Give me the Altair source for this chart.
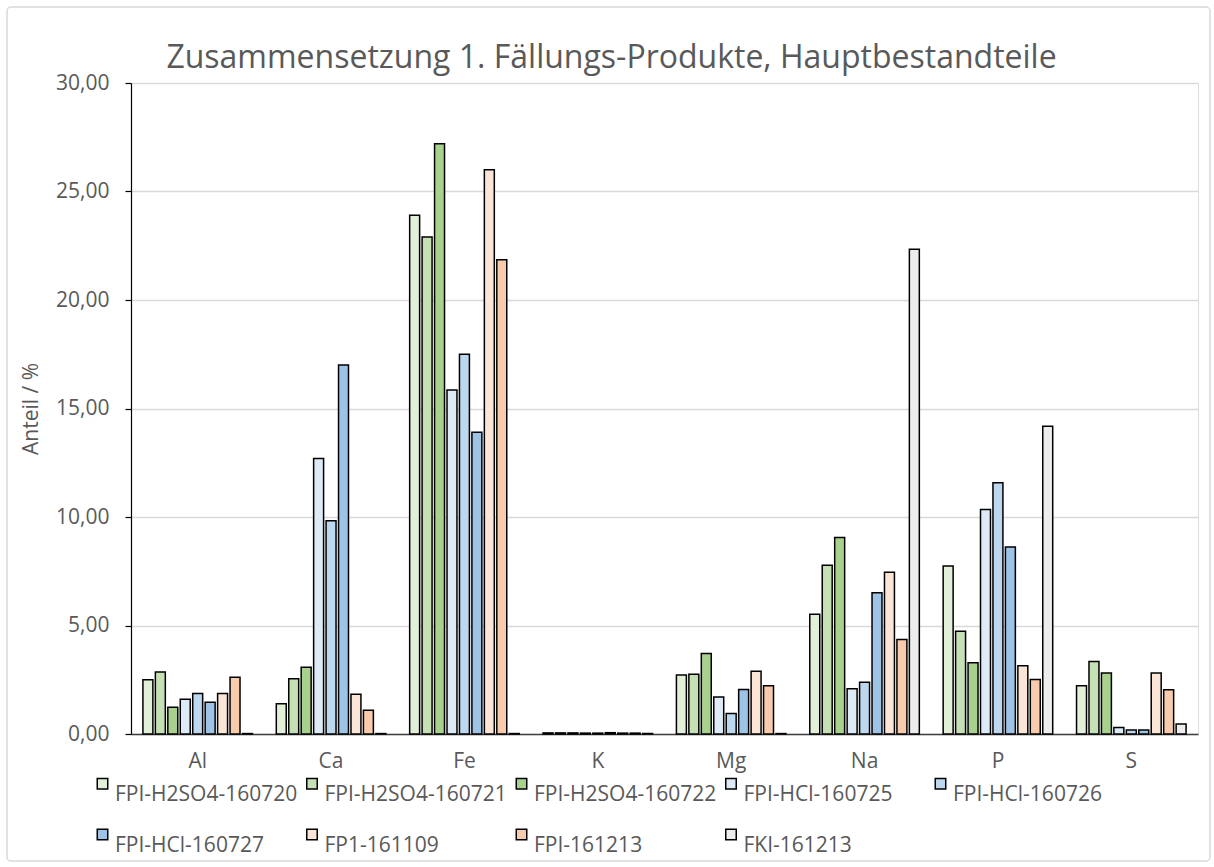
import altair as alt
import pandas as pd

# Elements on the x axis
elements = ["Al", "Ca", "Fe", "K", "Mg", "Na", "P", "S"]

# Samples (series) and their fill colours
samples = [
    "FPI-H2SO4-160720",
    "FPI-H2SO4-160721",
    "FPI-H2SO4-160722",
    "FPI-HCl-160725",
    "FPI-HCl-160726",
    "FPI-HCl-160727",
    "FP1-161109",
    "FPI-161213",
    "FKI-161213",
]
colors = [
    "#E2EFD9", "#C5E0B4", "#A9D18E",
    "#DEEBF7", "#BDD7EE", "#9DC3E6",
    "#FBE5D6", "#F8CBAD", "#EDEDED",
]

# Share in % per element (order: Al, Ca, Fe, K, Mg, Na, P, S)
fpi_h2so4_160720 = [2.50, 1.39, 23.90, 0.05, 2.72, 5.52, 7.74, 2.22]
fpi_h2so4_160721 = [2.86, 2.55, 22.90, 0.05, 2.75, 7.78, 4.74, 3.34]
fpi_h2so4_160722 = [1.23, 3.08, 27.20, 0.05, 3.71, 9.05, 3.28, 2.81]
fpi_hcl_160725 = [1.60, 12.70, 15.85, 0.04, 1.71, 2.09, 10.35, 0.30]
fpi_hcl_160726 = [1.87, 9.83, 17.50, 0.04, 0.94, 2.38, 11.58, 0.18]
fpi_hcl_160727 = [1.46, 17.00, 13.90, 0.06, 2.05, 6.51, 8.62, 0.18]
fp1_161109 = [1.87, 1.83, 26.00, 0.04, 2.89, 7.45, 3.15, 2.81]
fpi_161213 = [2.61, 1.09, 21.85, 0.04, 2.22, 4.35, 2.51, 2.04]
fki_161213 = [0.02, 0.02, 0.02, 0.02, 0.02, 22.34, 14.18, 0.46]

series_values = [
    fpi_h2so4_160720, fpi_h2so4_160721, fpi_h2so4_160722,
    fpi_hcl_160725, fpi_hcl_160726, fpi_hcl_160727,
    fp1_161109, fpi_161213, fki_161213,
]

y_ticks = [0, 5, 10, 15, 20, 25, 30]

rows = []
for name, vals in zip(samples, series_values):
    for el, v in zip(elements, vals):
        rows.append({"Element": el, "Probe": name, "Anteil": v})
df = pd.DataFrame(rows)

FONT = "Open Sans"
GREY = "#595959"

bars = alt.Chart(df).mark_bar(stroke="black", strokeWidth=1.5).encode(
    x=alt.X(
        "Element:N",
        sort=elements,
        scale=alt.Scale(paddingInner=0.16, paddingOuter=0.08),
        axis=alt.Axis(
            title=None, labelAngle=0, ticks=False, grid=False,
            labelPadding=16, labelFontSize=21, labelFont=FONT, labelColor=GREY,
            domainColor="#404040", domainWidth=1.5,
        ),
    ),
    xOffset=alt.XOffset(
        "Probe:N", sort=samples,
        scale=alt.Scale(paddingInner=0.2, paddingOuter=0.1),
    ),
    y=alt.Y(
        "Anteil:Q",
        scale=alt.Scale(domain=[0, 30], nice=False),
        axis=alt.Axis(
            values=y_ticks,
            labelExpr="replace(format(datum.value, '.2f'), '.', ',')",
            title="Anteil / %", titleFont=FONT, titleFontSize=21,
            titleFontWeight="normal", titleColor=GREY, titlePadding=14,
            labelFont=FONT, labelFontSize=21, labelColor=GREY, labelPadding=16,
            tickColor="black", tickSize=6, tickWidth=1.2,
            domainColor="black", domainWidth=1.2,
            gridColor="#D9D9D9", gridWidth=1.5,
        ),
    ),
    color=alt.Color(
        "Probe:N",
        sort=samples,
        title=None,
        scale=alt.Scale(domain=samples, range=colors),
        legend=alt.Legend(
            orient="none", legendX=-39, legendY=690, direction="horizontal",
            columns=5, gridAlign="all", columnPadding=3.5, rowPadding=19,
            symbolType="square", symbolSize=110,
            symbolStrokeColor="black", symbolStrokeWidth=1.5,
            labelFont=FONT, labelFontSize=21, labelColor=GREY,
            labelBaseline="top", labelOffset=2, labelLimit=400, padding=0,
        ),
    ),
)

# light frame around the whole figure
frame = alt.Chart(pd.DataFrame({"f": [0]})).mark_rect(
    fillOpacity=0, stroke="#D9D9D9", strokeWidth=1.5, cornerRadius=4
).encode(
    x=alt.value(-124), x2=alt.value(1079), y=alt.value(-76), y2=alt.value(778)
)

chart = alt.layer(bars, frame).properties(
    width=1067,
    height=651,
    title=alt.Title(
        "Zusammensetzung 1. Fällungs-Produkte, Hauptbestandteile",
        font=FONT, fontSize=32, fontWeight="normal", color=GREY,
        anchor="middle", frame="bounds", offset=0, baseline="alphabetic",
        dy=94, dx=3,
    ),
    autosize=alt.AutoSizeParams(type="none"),
    padding={"left": 131, "top": 83, "right": 16, "bottom": 133},
).configure_view(stroke=None).configure(background="white")

chart.save("out.html", embed_options={"renderer": "svg", "actions": False})
